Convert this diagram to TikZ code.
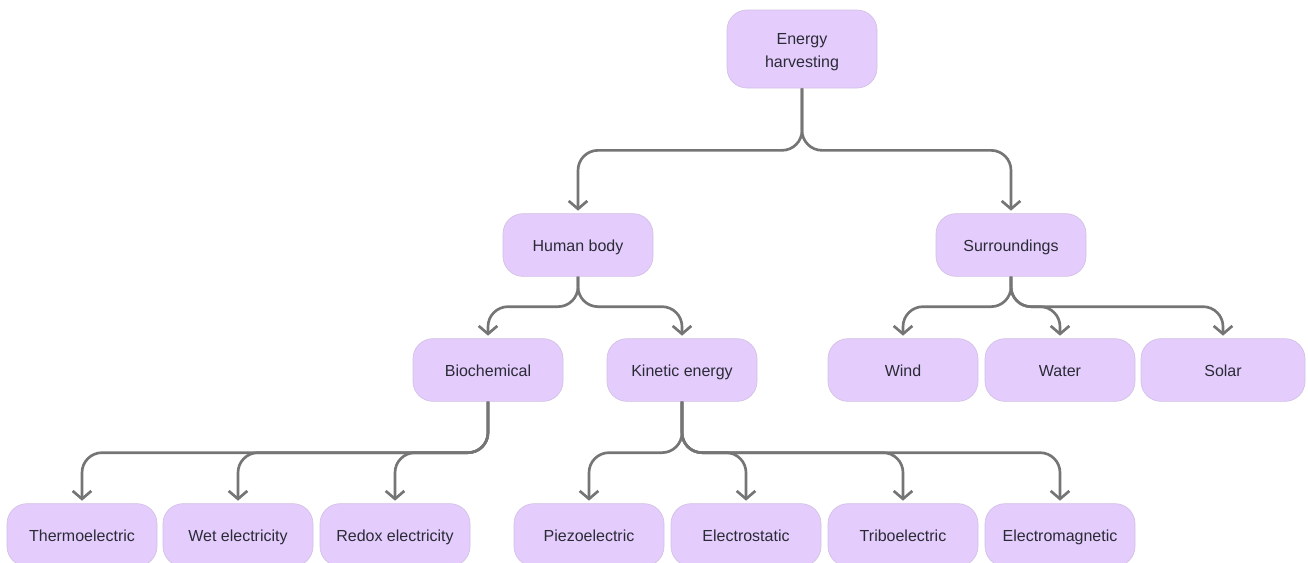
\documentclass[tikz,border=0pt]{standalone}
\usepackage{fontspec}
\setmainfont{Liberation Sans}
\usetikzlibrary{arrows.meta}
\definecolor{boxfill}{HTML}{E4CDFD}
\definecolor{boxline}{HTML}{D2C0E4}
\definecolor{linkgray}{HTML}{757575}
\definecolor{textdark}{HTML}{2B2B36}
\tikzset{
  boxbase/.style={draw=boxline, line width=0.5pt, fill=boxfill, rounded corners=15pt,
    minimum width=112.5pt, minimum height=47pt, align=center, text=textdark,
    font=\fontsize{12}{17}\selectfont},
  box/.style={boxbase, text height=10.1pt, text depth=0.9pt},
  link/.style={draw=linkgray, line width=2pt, rounded corners=15pt,
    -{Straight Barb[length=6pt,width=14pt,line width=2pt]}, shorten >=2pt}
}

\begin{document}
\begin{tikzpicture}[x=0.75pt,y=-0.75pt]
  \useasboundingbox (0,0) rectangle (1308,562);

  \node [boxbase, minimum height=58.5pt, text height=30.1pt, text depth=2.4pt]
    (energy) at (802, 49) {Energy\\harvesting};

  \node [box] (human) at (578, 245) {Human body};
  \node [box] (surr) at (1011, 245) {Surroundings};

  \node [box] (biochem) at (488, 370) {Biochemical};
  \node [box] (kinetic) at (682, 370) {Kinetic energy};
  \node [box] (wind) at (903, 370) {Wind};
  \node [box] (water) at (1060, 370) {Water};
  \node [box, minimum width=123pt] (solar) at (1223, 370) {Solar};

  \node [box] (thermo) at (82, 535) {Thermoelectric};
  \node [box] (wet) at (238, 535) {Wet electricity};
  \node [box] (redox) at (395, 535) {Redox electricity};
  \node [box] (piezo) at (589, 535) {Piezoelectric};
  \node [box] (electrost) at (746, 535) {Electrostatic};
  \node [box] (tribo) at (903, 535) {Triboelectric};
  \node [box] (electromag) at (1060, 535) {Electromagnetic};

  % level 1
  \draw [link] (energy.south) -- ++(0, 62) -| (human.north);
  \draw [link] (energy.south) -- ++(0, 62) -| (surr.north);

  % level 2
  \foreach \child in {biochem, kinetic}
    \draw [link] (human.south) -- ++(0, 30) -| (\child.north);
  \foreach \child in {wind, water, solar}
    \draw [link] (surr.south) -- ++(0, 30) -| (\child.north);

  % level 3
  \foreach \child in {thermo, wet, redox}
    \draw [link] (biochem.south) -- ++(0, 51) -| (\child.north);
  \foreach \child in {piezo, electrost, tribo, electromag}
    \draw [link] (kinetic.south) -- ++(0, 51) -| (\child.north);
\end{tikzpicture}
\end{document}
